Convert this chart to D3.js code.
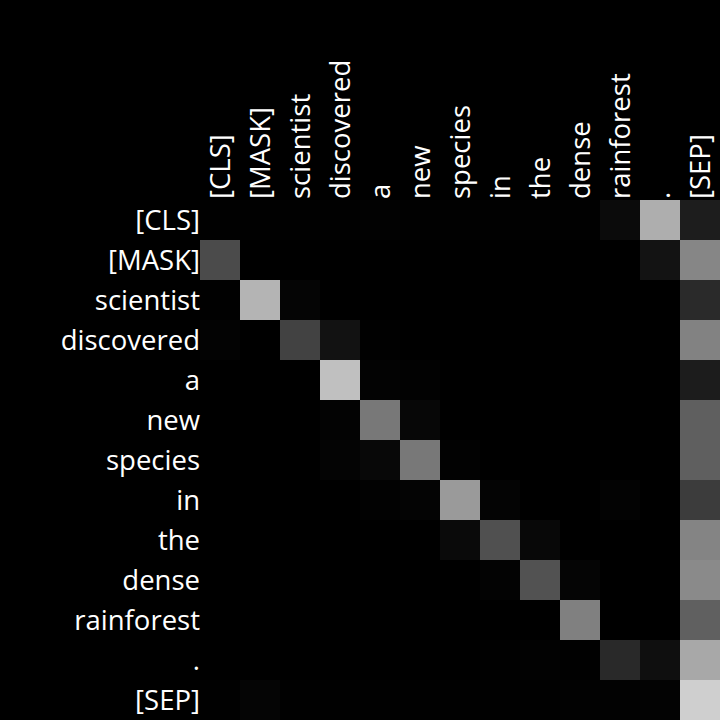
<!DOCTYPE html>
<html>
<head>
<meta charset="utf-8">
<script src="https://cdn.jsdelivr.net/npm/d3@7"></script>
<style>
  html, body { margin: 0; padding: 0; background: #000; }
  svg { display: block; }
  text { font-family: "Open Sans", "Noto Sans", sans-serif; }
</style>
</head>
<body>
<svg id="chart" width="720" height="720"></svg>
<script>
const tokens = ["[CLS]", "[MASK]", "scientist", "discovered", "a", "new", "species", "in", "the", "dense", "rainforest", ".", "[SEP]"];

// attention weights, one row per query token (rows) over key tokens (columns)
const rowCLS        = [0.004, 0.004, 0.004, 0.004, 0.008, 0.004, 0.004, 0.004, 0.004, 0.004, 0.043, 0.682, 0.114];
const rowMASK       = [0.294, 0.000, 0.000, 0.000, 0.000, 0.000, 0.000, 0.000, 0.000, 0.000, 0.000, 0.075, 0.525];
const rowScientist  = [0.004, 0.706, 0.020, 0.000, 0.000, 0.000, 0.000, 0.000, 0.000, 0.000, 0.000, 0.000, 0.165];
const rowDiscovered = [0.012, 0.000, 0.259, 0.071, 0.004, 0.000, 0.000, 0.000, 0.000, 0.000, 0.000, 0.000, 0.510];
const rowA          = [0.000, 0.000, 0.000, 0.753, 0.012, 0.008, 0.000, 0.000, 0.000, 0.000, 0.000, 0.000, 0.110];
const rowNew        = [0.000, 0.000, 0.000, 0.012, 0.471, 0.027, 0.000, 0.000, 0.000, 0.000, 0.000, 0.000, 0.373];
const rowSpecies    = [0.000, 0.000, 0.000, 0.016, 0.031, 0.471, 0.008, 0.000, 0.000, 0.000, 0.000, 0.000, 0.373];
const rowIn         = [0.000, 0.000, 0.000, 0.000, 0.008, 0.016, 0.604, 0.016, 0.000, 0.000, 0.012, 0.000, 0.235];
const rowThe        = [0.000, 0.000, 0.000, 0.000, 0.000, 0.000, 0.039, 0.314, 0.031, 0.000, 0.000, 0.000, 0.518];
const rowDense      = [0.000, 0.000, 0.000, 0.000, 0.000, 0.000, 0.000, 0.012, 0.322, 0.020, 0.000, 0.000, 0.541];
const rowRainforest = [0.000, 0.000, 0.000, 0.000, 0.000, 0.000, 0.000, 0.000, 0.000, 0.502, 0.000, 0.000, 0.376];
const rowPeriod     = [0.000, 0.000, 0.000, 0.000, 0.000, 0.000, 0.000, 0.004, 0.008, 0.004, 0.161, 0.059, 0.659];
const rowSEP        = [0.004, 0.020, 0.004, 0.004, 0.004, 0.004, 0.004, 0.004, 0.004, 0.008, 0.008, 0.012, 0.812];

const matrix = [rowCLS, rowMASK, rowScientist, rowDiscovered, rowA, rowNew, rowSpecies,
                rowIn, rowThe, rowDense, rowRainforest, rowPeriod, rowSEP];

const svg = d3.select("#chart");
svg.append("rect").attr("width", 720).attr("height", 720).attr("fill", "#000");

const x = d3.scaleBand().domain(tokens).range([200, 720]).padding(0);
const y = d3.scaleBand().domain(tokens).range([200, 720]).padding(0);
const color = d3.scaleLinear().domain([0, 1]).range(["#000000", "#ffffff"]).clamp(true);

const cells = [];
matrix.forEach((row, i) => row.forEach((v, j) => cells.push({ r: tokens[i], c: tokens[j], v })));

svg.append("g").selectAll("rect")
  .data(cells)
  .join("rect")
  .attr("x", d => x(d.c))
  .attr("y", d => y(d.r))
  .attr("width", x.bandwidth())
  .attr("height", y.bandwidth())
  .attr("fill", d => color(d.v));

const fontSize = 27.5;

// left axis labels
const gLeft = svg.append("g")
  .attr("transform", "translate(200,0)")
  .call(d3.axisLeft(y).tickSize(0).tickPadding(0));
gLeft.select(".domain").remove();
gLeft.selectAll("text")
  .attr("fill", "#fff")
  .attr("font-size", fontSize)
  .attr("font-family", "'Open Sans', 'Noto Sans', sans-serif")
  .attr("dy", "0.35em");

// top axis labels, rotated
const gTop = svg.append("g")
  .attr("transform", "translate(0,200)")
  .call(d3.axisTop(x).tickSize(0).tickPadding(0));
gTop.select(".domain").remove();
gTop.selectAll("text")
  .attr("fill", "#fff")
  .attr("font-size", fontSize)
  .attr("font-family", "'Open Sans', 'Noto Sans', sans-serif")
  .attr("transform", "rotate(-90)")
  .attr("text-anchor", "start")
  .attr("x", 1)
  .attr("y", 0)
  .attr("dy", "0.35em");
</script>
</body>
</html>
